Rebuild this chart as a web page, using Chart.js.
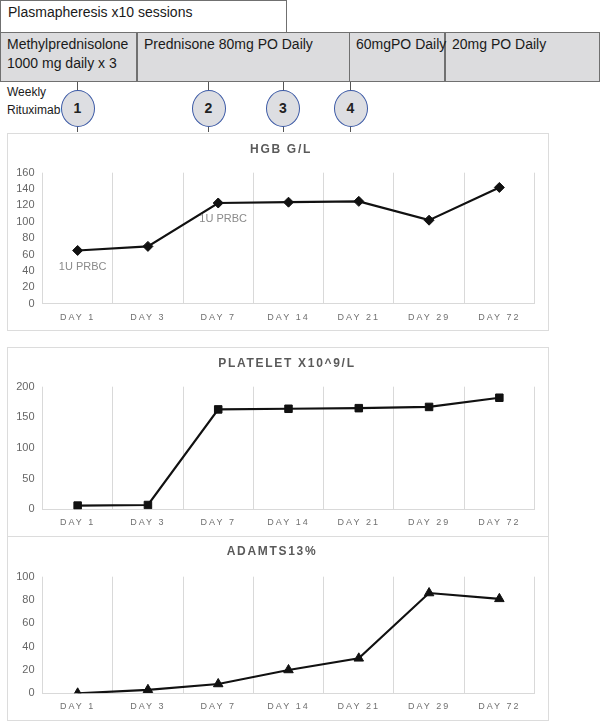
<!DOCTYPE html>
<html>
<head>
<meta charset="utf-8"/>
<style>
  html,body{margin:0;padding:0;background:#fff;}
  body{width:600px;height:721px;position:relative;overflow:hidden;font-family:"Liberation Sans",Arial,sans-serif;color:#1a1a1a;}
  .abs{position:absolute;box-sizing:border-box;}
  .plasma{left:0;top:0;width:287px;height:33px;border:1px solid #707070;font-size:14px;padding:3px 0 0 7px;}
  .band{left:0;top:32px;width:600px;height:50px;background:#dcdcde;border:1.5px solid #707070;}
  .cell{top:32px;height:50px;font-size:14px;line-height:18.5px;padding-top:3px;}
  .div{top:32px;width:1.5px;height:50px;background:#707070;}
  .stem{width:1px;background:#555;}
  .circ{width:34px;height:37px;border-radius:50%;border:1.6px solid #3c5aa6;background:#dddee2;
        font-weight:bold;font-size:14px;line-height:34px;text-align:center;color:#222;}
  .note{font-size:12px;line-height:17.5px;}
  .box{border:1px solid #dcdcdc;}
  .box canvas{position:absolute;left:-1px;top:-1px;}
</style>
</head>
<body>
  <div class="abs plasma">Plasmapheresis x10 sessions</div>
  <div class="abs band"></div>
  <div class="abs div" style="left:136px"></div>
  <div class="abs div" style="left:348.5px"></div>
  <div class="abs div" style="left:444px"></div>
  <div class="abs cell" style="left:7px">Methylprednisolone<br>1000 mg daily x 3</div>
  <div class="abs cell" style="left:144px">Prednisone 80mg PO Daily</div>
  <div class="abs cell" style="left:356px">60mgPO Daily</div>
  <div class="abs cell" style="left:452px">20mg PO Daily</div>
  <div class="abs note" style="left:7px;top:84px">Weekly<br>Rituximab</div>

  <div class="abs stem" style="left:77px;top:82px;height:50px"></div>
  <div class="abs stem" style="left:208px;top:82px;height:50px"></div>
  <div class="abs stem" style="left:283px;top:82px;height:50px"></div>
  <div class="abs stem" style="left:350px;top:82px;height:50px"></div>
  <div class="abs circ" style="left:60.5px;top:89.5px">1</div>
  <div class="abs circ" style="left:191.5px;top:89.5px">2</div>
  <div class="abs circ" style="left:266px;top:89.5px">3</div>
  <div class="abs circ" style="left:333.5px;top:89.5px">4</div>

  <div class="abs box" style="left:7px;top:133px;width:542px;height:198px"><canvas id="hgb" width="542" height="198"></canvas></div>
  <div class="abs box" style="left:7px;top:347px;width:542px;height:190px"><canvas id="plt" width="542" height="189"></canvas></div>
  <div class="abs box" style="left:7px;top:536px;width:542px;height:185px"><canvas id="adm" width="542" height="184"></canvas></div>

<script src="https://cdn.jsdelivr.net/npm/chart.js@4.4.0/dist/chart.umd.min.js"></script>
<script>
const days = ['DAY 1', 'DAY 3', 'DAY 7', 'DAY 14', 'DAY 21', 'DAY 29', 'DAY 72'];
const hgbValues = [65, 70, 123, 124, 125, 102, 142];
const plateletValues = [6, 7, 163, 164, 165, 167, 182];
const adamtsValues = [0, 3, 8, 20, 30, 86, 81];
const hgbAxis = [0, 160, 20];       // min, max, step
const plateletAxis = [0, 200, 50];
const adamtsAxis = [0, 100, 20];
const prbcIndex = [0, 2];
const prbcText = ['1U PRBC', '1U PRBC'];

// category axis whose labels get a little letter spacing
class SpacedCategory extends Chart.CategoryScale {
  static id = 'spacedCategory';
  drawLabels(area) {
    const ctx = this.ctx;
    ctx.save();
    ctx.letterSpacing = '2px';
    super.drawLabels(area);
    ctx.restore();
  }
}
Chart.register(SpacedCategory);

const spacedTitle = {
  id: 'spacedTitle',
  afterDraw(chart, args, o) {
    const ctx = chart.ctx;
    ctx.save();
    ctx.letterSpacing = '1.7px';
    ctx.font = 'bold 12px "Liberation Sans", Arial, sans-serif';
    ctx.fillStyle = '#5a5a5a';
    ctx.textAlign = 'center';
    ctx.textBaseline = 'middle';
    ctx.fillText(o.text, o.x, o.y);
    ctx.restore();
  }
};

const pointNotes = {
  id: 'pointNotes',
  afterDatasetsDraw(chart, args, o) {
    if (!o.idx) return;
    const ctx = chart.ctx;
    const pts = chart.getDatasetMeta(0).data;
    ctx.save();
    ctx.font = '11px "Liberation Sans", Arial, sans-serif';
    ctx.fillStyle = '#8a8a8a';
    ctx.textAlign = 'center';
    ctx.textBaseline = 'middle';
    o.idx.forEach((i, k) => ctx.fillText(o.text[k], pts[i].x + 5, pts[i].y + 16));
    ctx.restore();
  }
};

function makeChart(id, values, axis, style, radius, title, top, bottom, notes) {
  return new Chart(document.getElementById(id), {
    type: 'line',
    data: {
      labels: days,
      datasets: [{
        data: values,
        borderColor: '#111',
        borderWidth: 2.2,
        tension: 0,
        pointStyle: style,
        pointRadius: radius,
        pointBackgroundColor: '#111',
        pointBorderColor: '#111',
        pointBorderWidth: 1
      }]
    },
    options: {
      responsive: false,
      animation: false,
      layout: { padding: { left: 5, right: 14.5, top: top, bottom: 0 } },
      plugins: {
        legend: { display: false },
        tooltip: { enabled: false },
        spacedTitle: title,
        pointNotes: notes || {}
      },
      scales: {
        x: {
          type: 'spacedCategory',
          offset: true,
          grid: { offset: true, color: '#d9d9d9', lineWidth: 1, drawTicks: false },
          border: { color: '#d9d9d9', width: 1 },
          ticks: { color: '#707070', padding: 8, maxRotation: 0, font: { size: 9, family: '"Liberation Sans", Arial' } },
          afterFit: s => { s.height = bottom; }
        },
        y: {
          min: axis[0], max: axis[1],
          grid: { display: false, drawTicks: false },
          border: { display: false },
          ticks: { stepSize: axis[2], color: '#666', padding: 8, font: { size: 11, family: '"Liberation Sans", Arial' } },
          afterFit: s => { s.width = 30.5; }
        }
      }
    },
    plugins: [spacedTitle, pointNotes]
  });
}

makeChart('hgb', hgbValues, hgbAxis, 'rectRot', 5, { text: 'HGB G/L', x: 274, y: 17 }, 39.7, 27.3,
  { idx: prbcIndex, text: prbcText });
makeChart('plt', plateletValues, plateletAxis, 'rect', 5.3, { text: 'PLATELET X10^9/L', x: 280, y: 17 }, 39.7, 26.7);
makeChart('adm', adamtsValues, adamtsAxis, 'triangle', 5.5, { text: 'ADAMTS13%', x: 265, y: 15.7 }, 40.7, 26.7);
</script>
</body>
</html>
